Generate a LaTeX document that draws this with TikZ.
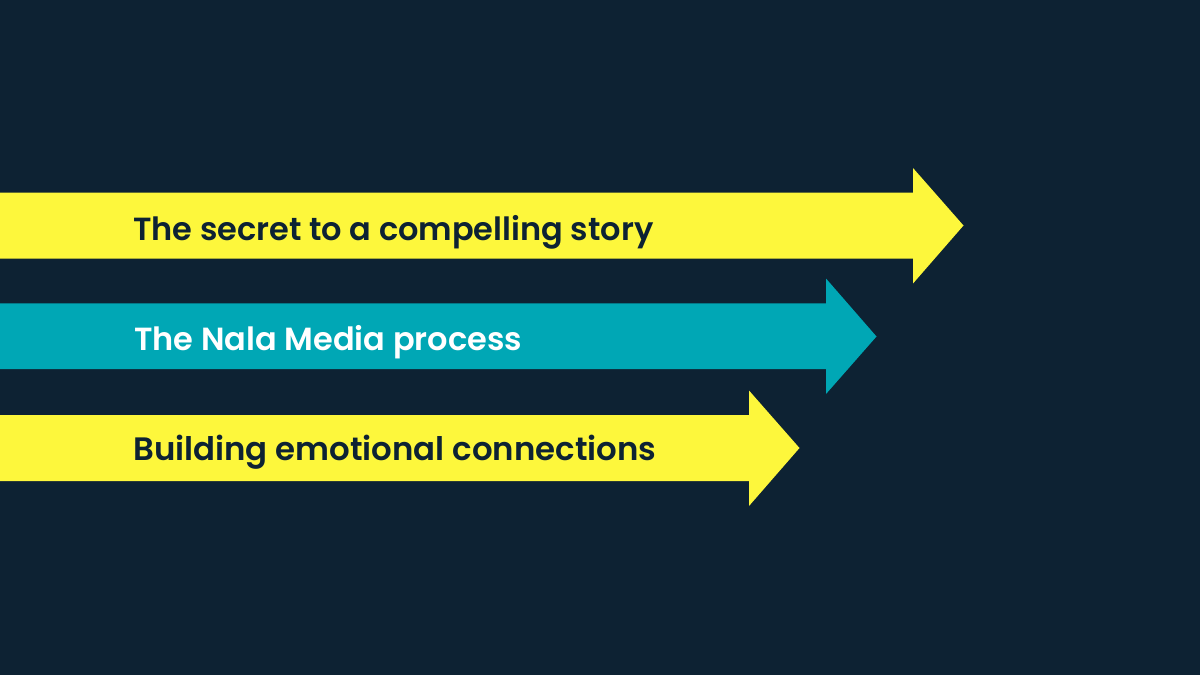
\documentclass[tikz,border=0pt]{standalone}
\usepackage{fontspec}
\setmainfont{Poppins}[BoldFont={Poppins SemiBold}]
\definecolor{bgc}{HTML}{0D2233}
\definecolor{yel}{HTML}{FDF73C}
\definecolor{tea}{HTML}{00A7B5}
\tikzset{lab/.style={anchor=base west,inner sep=0pt,font=\fontsize{32pt}{38pt}\selectfont\bfseries},
labwide/.style={lab,font=\fontsize{32.4pt}{38pt}\selectfont\bfseries}}
\begin{document}
\begin{tikzpicture}[x=1pt,y=-1pt]
\useasboundingbox (0,0) rectangle (1200,675);
\fill[bgc] (0,0) rectangle (1200,675);
\fill[yel] (0,192.7) -- (913,192.7) -- (913,168) -- (963.5,225.5) -- (913,283.5) -- (913,258.5) -- (0,258.5) -- cycle;
\fill[tea] (0,303.4) -- (826,303.4) -- (826,278.5) -- (876.5,336.5) -- (826,394) -- (826,369.2) -- (0,369.2) -- cycle;
\fill[yel] (0,415) -- (749,415) -- (749,390.5) -- (799.5,448) -- (749,506) -- (749,481) -- (0,481) -- cycle;
\node[lab,text=bgc] (a) at (133,240) {The secret to a compelling story};
\node[lab,text=white] (b) at (134,350) {The Nala Media process};
\node[labwide,text=bgc] (c) at (133,460) {Building emotional connections};
\end{tikzpicture}
\end{document}
